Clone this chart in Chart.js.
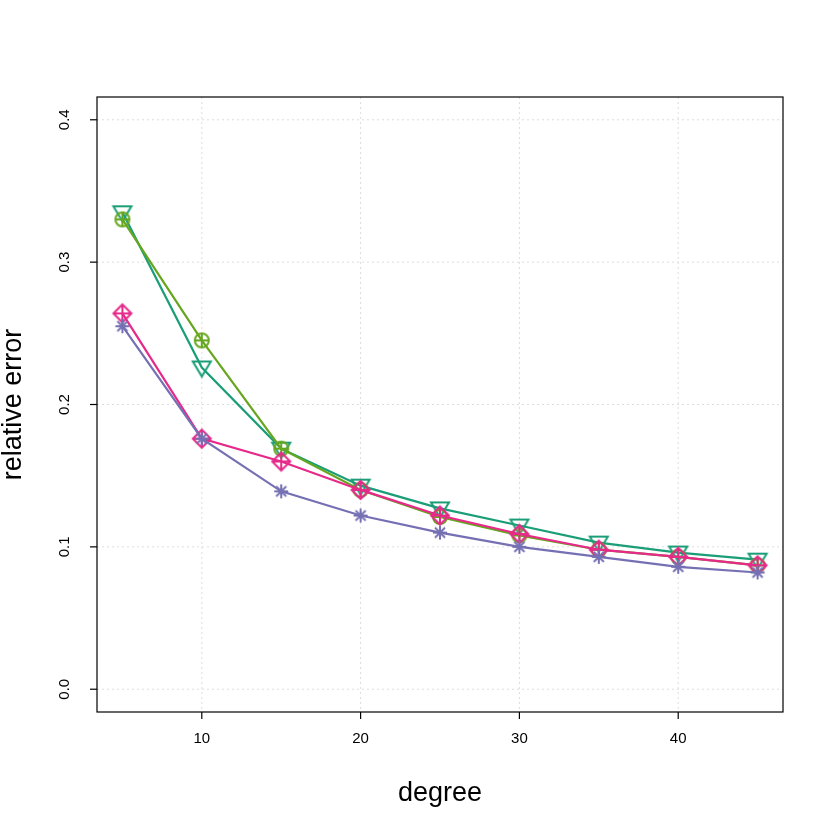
<!DOCTYPE html>
<html>
<head>
<meta charset="utf-8">
<script src="https://cdn.jsdelivr.net/npm/chart.js@4"></script>
<style>
  html, body { margin: 0; padding: 0; background: #fff; }
  #wrap { width: 834px; height: 834px; }
</style>
</head>
<body>
<div id="wrap"><canvas id="c" width="834" height="834"></canvas></div>
<script>
const degrees = [5, 10, 15, 20, 25, 30, 35, 40, 45];
const tealVals = [0.335, 0.226, 0.169, 0.143, 0.127, 0.115, 0.103, 0.096, 0.091];
const greenVals = [0.330, 0.245, 0.169, 0.140, 0.121, 0.108, 0.098, 0.093, 0.087];
const pinkVals = [0.264, 0.176, 0.160, 0.140, 0.122, 0.109, 0.098, 0.093, 0.087];
const purpleVals = [0.255, 0.176, 0.139, 0.122, 0.110, 0.100, 0.093, 0.086, 0.082];
const xTicks = [10, 20, 30, 40];
const yTicks = [0, 0.1, 0.2, 0.3, 0.4];
const yTickLabels = ['0.0', '0.1', '0.2', '0.3', '0.4'];

// marker drawing helpers
function marker(kind, color) {
  const s = 24, cv = document.createElement('canvas');
  cv.width = s; cv.height = s;
  const g = cv.getContext('2d');
  g.strokeStyle = color; g.lineWidth = 2;
  const c = s / 2, r = 8;
  g.beginPath();
  if (kind === 'tri') {
    g.moveTo(c - 9, c - 6); g.lineTo(c + 9, c - 6); g.lineTo(c, c + 9); g.closePath();
  } else if (kind === 'circplus') {
    g.arc(c, c, 7, 0, Math.PI * 2);
    g.moveTo(c - 7, c); g.lineTo(c + 7, c); g.moveTo(c, c - 7); g.lineTo(c, c + 7);
  } else if (kind === 'diamplus') {
    g.moveTo(c, c - r - 1); g.lineTo(c + r + 1, c); g.lineTo(c, c + r + 1); g.lineTo(c - r - 1, c); g.closePath();
    g.moveTo(c - r - 1, c); g.lineTo(c + r + 1, c); g.moveTo(c, c - r - 1); g.lineTo(c, c + r + 1);
  } else {
    const a = 7;
    g.moveTo(c - a, c); g.lineTo(c + a, c); g.moveTo(c, c - a); g.lineTo(c, c + a);
    g.moveTo(c - a * .72, c - a * .72); g.lineTo(c + a * .72, c + a * .72);
    g.moveTo(c - a * .72, c + a * .72); g.lineTo(c + a * .72, c - a * .72);
  }
  g.stroke();
  return cv;
}

function series(vals, color, kind) {
  return {
    data: degrees.map((d, i) => ({ x: d, y: vals[i] })),
    borderColor: color, borderWidth: 2.2,
    pointStyle: marker(kind, color), pointRadius: 10,
    tension: 0
  };
}

const frame = {
  id: 'frame',
  beforeDatasetsDraw(chart) {
    const { ctx, chartArea: a, scales: { x, y } } = chart;
    ctx.save();
    ctx.strokeStyle = '#dddddd'; ctx.lineWidth = 1; ctx.setLineDash([2, 3]);
    xTicks.forEach(v => { const p = x.getPixelForValue(v); ctx.beginPath(); ctx.moveTo(p, a.top); ctx.lineTo(p, a.bottom); ctx.stroke(); });
    yTicks.forEach(v => { const p = y.getPixelForValue(v); ctx.beginPath(); ctx.moveTo(a.left, p); ctx.lineTo(a.right, p); ctx.stroke(); });
    ctx.restore();
  },
  afterDraw(chart) {
    const { ctx, chartArea: a, scales: { x, y } } = chart;
    ctx.save();
    ctx.strokeStyle = '#000'; ctx.lineWidth = 1.2;
    ctx.strokeRect(a.left, a.top, a.right - a.left, a.bottom - a.top);
    ctx.fillStyle = '#000';
    ctx.font = '15px "Liberation Sans", Arial';
    ctx.textAlign = 'center'; ctx.textBaseline = 'top';
    xTicks.forEach(v => {
      const p = x.getPixelForValue(v);
      ctx.beginPath(); ctx.moveTo(p, a.bottom); ctx.lineTo(p, a.bottom + 7); ctx.stroke();
      ctx.fillText(String(v), p, a.bottom + 19);
    });
    yTicks.forEach((v, i) => {
      const p = y.getPixelForValue(v);
      ctx.beginPath(); ctx.moveTo(a.left, p); ctx.lineTo(a.left - 7, p); ctx.stroke();
      ctx.save(); ctx.translate(a.left - 32, p); ctx.rotate(-Math.PI / 2);
      ctx.textBaseline = 'middle'; ctx.fillText(yTickLabels[i], 0, 0); ctx.restore();
    });
    ctx.font = '27px "Liberation Sans", Arial';
    ctx.textBaseline = 'middle';
    ctx.fillText('degree', (a.left + a.right) / 2, 794);
    ctx.save(); ctx.translate(14, (a.top + a.bottom) / 2); ctx.rotate(-Math.PI / 2);
    ctx.fillText('relative error', 0, 0); ctx.restore();
    ctx.restore();
  }
};

new Chart(document.getElementById('c'), {
  type: 'line',
  data: {
    datasets: [
      series(purpleVals, '#7570B3', 'ast'),
      series(pinkVals, '#E7298A', 'diamplus'),
      series(greenVals, '#66A61E', 'circplus'),
      series(tealVals, '#1B9E77', 'tri')
    ]
  },
  options: {
    responsive: false, animation: false,
    layout: { padding: { left: 97, right: 51, top: 97, bottom: 122 } },
    plugins: { legend: { display: false }, tooltip: { enabled: false } },
    scales: {
      x: { type: 'linear', min: 3.4, max: 46.6, display: false },
      y: { min: -0.016, max: 0.416, display: false }
    }
  },
  plugins: [frame]
});
</script>
</body>
</html>
